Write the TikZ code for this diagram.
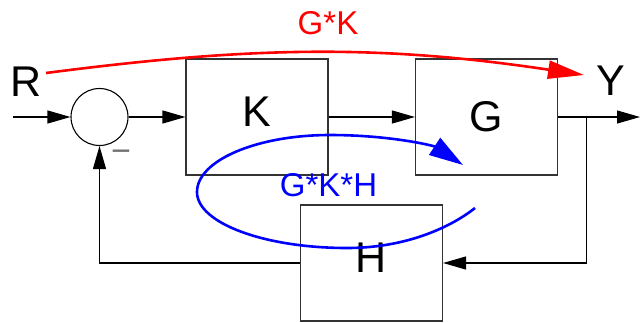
\documentclass[tikz,border=0pt]{standalone}
\usepackage{fontspec}
\setmainfont{Liberation Sans}
\usetikzlibrary{arrows.meta}
\begin{document}
\begin{tikzpicture}[x=1pt,y=-1pt,
  blk/.style={draw=black!80, line width=1.1pt, minimum width=142pt, minimum height=116pt, inner sep=0pt, font=\fontsize{43}{50}\selectfont},
  sig/.style={draw=black, line width=1.1pt, -{Triangle[length=23pt,width=13pt]}},
  lbl/.style={inner sep=0pt, font=\fontsize{43}{50}\selectfont},
  loopl/.style={inner sep=0pt, font=\fontsize{33}{40}\selectfont},
  loopline/.style={line width=2.6pt}]
\useasboundingbox (0,0) rectangle (640,322);
% blocks
\node[circle, draw=black, line width=1.1pt, minimum size=57pt, inner sep=0pt] (sum) at (99.5,117) {};
\node[blk, text depth=10pt] (K) at (257,117) {K};
\node[blk, text depth=2pt] (G) at (486.5,117) {G};
\node[blk, text depth=10pt] (H) at (371.5,263) {H};
% coordinates
\coordinate (in) at (13,117);
\coordinate (out) at (640,117);
\coordinate (br) at (586.7,117);
% labels
\node[lbl] (R) at (26,82) {R};
\node[lbl] (Y) at (611,81) {Y};
\node[inner sep=0pt, text=black!55, font=\fontsize{34}{40}\selectfont] (minus) at (121,156) {−};
% signal lines
\draw[sig] (in) -- (sum);
\draw[sig] (sum) -- (K);
\draw[sig] (K) -- (G);
\draw[sig] (G) -- (out);
\draw[sig] (br) |- (H);
\draw[sig] (H) -| (sum);
% red G*K path
\coordinate (rs) at (46,73);
\coordinate (re) at (584,75);
\draw[red, loopline, -{Triangle[length=36pt,width=18pt]}] (rs) .. controls (251,46.3) and (379,44.25) .. (re);
\node[loopl, text=red] (gk) at (328,23) {G*K};
% blue loop
\coordinate (bs) at (475,208);
\coordinate (be) at (463,165);
\draw[blue, loopline, -{Triangle[length=34pt,width=20pt]}] (bs) .. controls (451.6,226.6) and (407,248) .. (347,248)
  .. controls (264,248) and (197,223) .. (197,192)
  .. controls (197,160.5) and (256.6,135) .. (330,135)
  .. controls (390,135) and (433.6,145.7) .. (be);
\node[loopl, text=blue] (gkh) at (328.5,185.5) {G*K*H};
\end{tikzpicture}
\end{document}
